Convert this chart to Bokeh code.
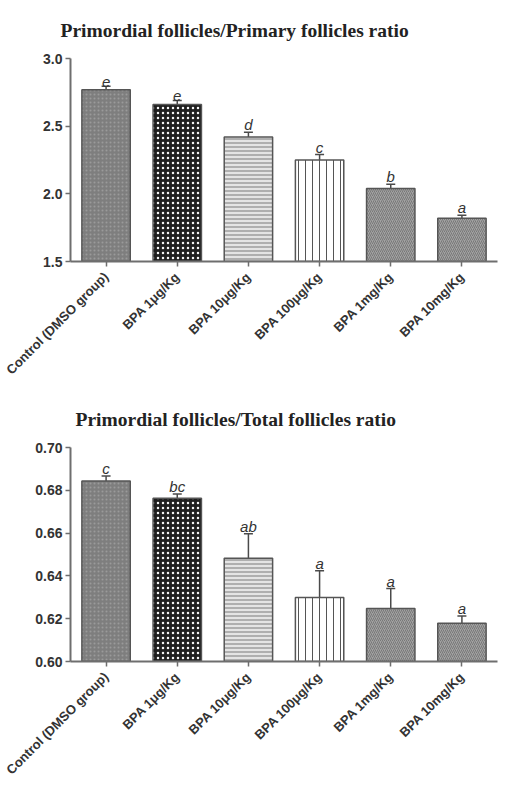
import math
from bokeh.plotting import figure
from bokeh.models import ColumnDataSource, Whisker, TeeHead, FixedTicker, Range1d, NumeralTickFormatter
from bokeh.layouts import column
from bokeh.core.properties import value
from bokeh.embed import file_html
from bokeh.resources import INLINE

# ---- data ----
categories = ["Control (DMSO group)", "BPA 1μg/Kg", "BPA 10μg/Kg",
              "BPA 100μg/Kg", "BPA 1mg/Kg", "BPA 10mg/Kg"]

primary_ratio = [2.77, 2.66, 2.42, 2.25, 2.04, 1.82]
primary_err = [0.025, 0.03, 0.035, 0.04, 0.03, 0.022]
primary_letters = ["e", "e", "d", "c", "b", "a"]
primary_ticks = [1.5, 2.0, 2.5, 3.0]

total_ratio = [0.6844, 0.6763, 0.6483, 0.6299, 0.6248, 0.6179]
total_err = [0.0023, 0.0020, 0.0114, 0.0125, 0.0093, 0.0034]
total_letters = ["c", "bc", "ab", "a", "a", "a"]
total_ticks = [0.60, 0.62, 0.64, 0.66, 0.68, 0.70]

# ---- styles ----
fills = ["#7e7e7e", "#1e1e1e", "#e4e4e4", "#ffffff", "#a2a2a2", "#a2a2a2"]
hatches = ["dot", "dot", "horizontal_line", "vertical_line",
           "right_diagonal_line", "right_diagonal_line"]
hatch_colors = ["#9a9a9a", "#f4f4f4", "#7a7a7a", "#555555", "#787878", "#787878"]
hatch_scales = [4, 5, 4, 7, 4, 4]
hatch_weights = [1.5, 3.5, 1, 1, 1, 1]

AX = "#6e6e6e"
TXT = "#333333"


def make_chart(title, vals, errs, letters, ticks, y0, y1, fmt,
               width, height, mtop, mleft, mright, mbottom, toff, tstand):
    p = figure(x_range=categories, y_range=Range1d(y0, y1),
               width=width, height=height, output_backend="svg",
               toolbar_location=None, min_border_top=mtop,
               min_border_left=mleft, min_border_right=mright,
               min_border_bottom=mbottom, outline_line_color=None)
    p.title.text = title
    p.title.text_font = "Liberation Serif"
    p.title.text_font_style = "bold"
    p.title.text_font_size = "19.5px"
    p.title.text_color = "#222222"
    p.title.align = "left"
    p.title.offset = toff
    p.title.standoff = tstand

    src = ColumnDataSource(dict(
        cat=categories, val=vals,
        upper=[v + e for v, e in zip(vals, errs)],
        lower=list(vals), lab=letters,
        fill=fills, hp=hatches, hc=hatch_colors, hs=hatch_scales, hw=hatch_weights))

    p.vbar(x="cat", top="val", bottom=y0, width=0.68, source=src,
           fill_color="fill", hatch_pattern="hp", hatch_color="hc",
           hatch_scale="hs", hatch_weight="hw",
           line_color="#555555", line_width=1.5)

    w = Whisker(base="cat", upper="upper", lower="lower", source=src,
                dimension="height", line_color="#4a4a4a", line_width=1.5,
                lower_head=None,
                upper_head=TeeHead(size=9, line_color="#4a4a4a", line_width=1.5))
    p.add_layout(w)

    p.text(x="cat", y="upper", text="lab", source=src, y_offset=1,
           text_align="center", text_baseline="bottom",
           text_font=value("Liberation Sans"), text_font_style="italic",
           text_font_size="15px", text_color=TXT)

    p.xgrid.visible = False
    p.ygrid.visible = False

    for ax in (p.xaxis[0], p.yaxis[0]):
        ax.axis_line_color = AX
        ax.axis_line_width = 2
        ax.major_tick_line_color = AX
        ax.major_tick_line_width = 1.5
        ax.major_tick_out = 5
        ax.major_tick_in = 0
        ax.minor_tick_line_color = None
        ax.major_label_text_font = "Liberation Sans"
        ax.major_label_text_font_style = "bold"
        ax.major_label_text_color = TXT

    p.yaxis[0].ticker = FixedTicker(ticks=ticks)
    p.yaxis[0].formatter = NumeralTickFormatter(format=fmt)
    p.yaxis[0].major_label_text_font_size = "14px"
    p.yaxis[0].major_label_standoff = 3

    p.xaxis[0].major_label_orientation = math.pi / 4
    p.xaxis[0].major_label_text_font_size = "13px"
    p.xaxis[0].major_label_standoff = 8
    return p


p1 = make_chart("Primordial follicles/Primary follicles ratio",
                primary_ratio, primary_err, primary_letters, primary_ticks,
                1.5, 3.0, "0.0", 519, 385, 58, 68, 22, 124, -10, 35)
p2 = make_chart("Primordial follicles/Total follicles ratio",
                total_ratio, total_err, total_letters, total_ticks,
                0.60, 0.70, "0.00", 519, 400, 62, 70, 0, 124, 5, 35)

layout = column(p1, p2, spacing=0)
open("out.html", "w").write(file_html(layout, INLINE))
